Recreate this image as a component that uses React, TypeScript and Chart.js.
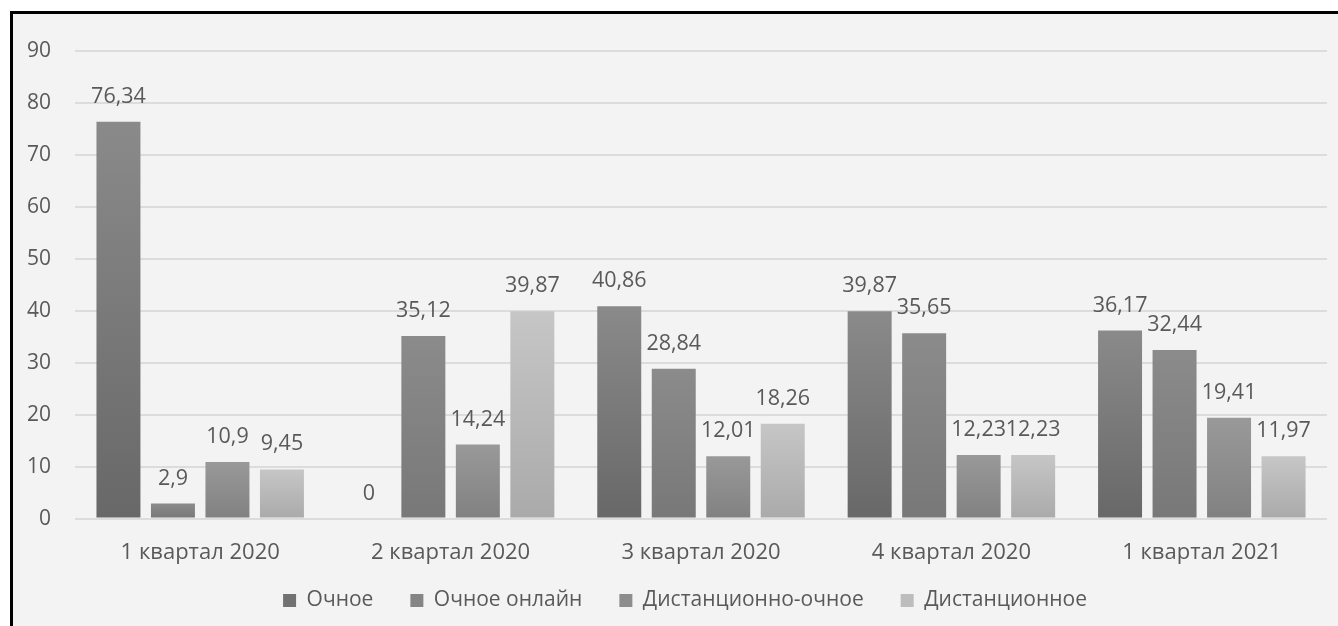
import React, { useEffect, useRef } from "react";
import { Chart, registerables } from "chart.js";

Chart.register(...registerables);

const categories = ["1 квартал 2020", "2 квартал 2020", "3 квартал 2020", "4 квартал 2020", "1 квартал 2021"];
const seriesNames = ["Очное", "Очное онлайн", "Дистанционно-очное", "Дистанционное"];
const ochnoe = [76.34, 0, 40.86, 39.87, 36.17];
const ochnoeOnline = [2.9, 35.12, 28.84, 35.65, 32.44];
const distOchnoe = [10.9, 14.24, 12.01, 12.23, 19.41];
const distancionnoe = [9.45, 39.87, 18.26, 12.23, 11.97];
const yMin = 0;
const yMax = 90;
const yStep = 10;

const seriesValues = [ochnoe, ochnoeOnline, distOchnoe, distancionnoe];
const topColors = ["#8a8a8a", "#8b8b8b", "#999999", "#c6c6c6"];
const bottomColors = ["#686868", "#787878", "#818181", "#aaaaaa"];
const legendColors = ["#727272", "#858585", "#8d8d8d", "#bdbdbd"];

const FONT = "'Open Sans', 'Noto Sans', sans-serif";
const TEXT = "#595959";

const fmt = (v: number) => String(v).replace(".", ",");

const dataLabelPlugin = {
  id: "dataLabels",
  afterDatasetsDraw(chart: any) {
    const ctx = chart.ctx;
    ctx.save();
    ctx.font = `21.5px ${FONT}`;
    ctx.fillStyle = TEXT;
    ctx.textAlign = "center";
    ctx.textBaseline = "alphabetic";
    chart.data.datasets.forEach((ds: any, di: number) => {
      const meta = chart.getDatasetMeta(di);
      meta.data.forEach((bar: any, i: number) => {
        ctx.fillText(fmt(ds.data[i]), bar.x, bar.y - 19);
      });
    });
    ctx.restore();
  },
};

const legendPlacePlugin = {
  id: "legendPlace",
  afterLayout(chart: any) {
    const lg = chart.legend;
    if (!lg) return;
    const dx = 15;
    lg.left += dx;
    lg.right += dx;
    const h = lg.bottom - lg.top;
    lg.top = 586 - 47;
    lg.bottom = lg.top + h;
  },
};

export default function App() {
  const ref = useRef<HTMLCanvasElement | null>(null);

  useEffect(() => {
    if (!ref.current) return;
    const chart = new Chart(ref.current, {
      type: "bar",
      data: {
        labels: categories,
        datasets: seriesNames.map((name, si) => ({
          label: name,
          data: seriesValues[si],
          backgroundColor: (c: any) => {
            const ch = c.chart;
            const y = ch.scales && ch.scales.y;
            if (!y || c.raw === undefined || c.raw === 0) return legendColors[si];
            const top = y.getPixelForValue(c.raw);
            const bottom = y.getPixelForValue(0);
            if (!isFinite(top) || !isFinite(bottom) || top === bottom) return legendColors[si];
            const g = ch.ctx.createLinearGradient(0, top, 0, bottom);
            g.addColorStop(0, topColors[si]);
            g.addColorStop(1, bottomColors[si]);
            return g;
          },
          borderWidth: 0,
          categoryPercentage: 0.8706,
          barPercentage: 0.807,
        })),
      },
      options: {
        responsive: false,
        animation: false,
        devicePixelRatio: 1,
        layout: { padding: { top: 36, right: 11, left: 0, bottom: -21 } },
        plugins: {
          tooltip: { enabled: false },
          legend: {
            position: "bottom",
            maxHeight: 60,
            labels: {
              boxWidth: 13,
              boxHeight: 13,
              padding: 37,
              color: TEXT,
              font: { family: FONT, size: 21 },
              generateLabels: () =>
                seriesNames.map((name, i) => ({
                  text: name,
                  fillStyle: legendColors[i],
                  strokeStyle: legendColors[i],
                  lineWidth: 0,
                  fontColor: TEXT,
                  datasetIndex: i,
                  hidden: false,
                })),
            },
          },
        },
        scales: {
          x: {
            grid: { display: false, drawTicks: false },
            border: { display: false },
            ticks: { color: TEXT, font: { family: FONT, size: 22 }, padding: 21, maxRotation: 0 },
          },
          y: {
            min: yMin,
            max: yMax,
            grid: { color: "#dcdcdc", lineWidth: 2, drawTicks: false },
            border: { display: false },
            ticks: { stepSize: yStep, color: TEXT, font: { family: FONT, size: 21 }, padding: 24 },
            afterFit: (s: any) => {
              s.width = 62;
            },
          },
        },
      },
      plugins: [dataLabelPlugin, legendPlacePlugin],
    } as any);
    return () => chart.destroy();
  }, []);

  return (
    <div style={{ position: "absolute", left: 0, top: 0, width: 1338, height: 626, background: "#fff", overflow: "hidden" }}>
      <div
        style={{
          position: "absolute",
          left: 10,
          top: 11,
          width: 1340,
          height: 630,
          borderTop: "3px solid #000",
          borderLeft: "3px solid #000",
          background: "#f3f3f3",
        }}
      >
        <canvas ref={ref} width={1325} height={612} style={{ display: "block" }} />
      </div>
    </div>
  );
}
